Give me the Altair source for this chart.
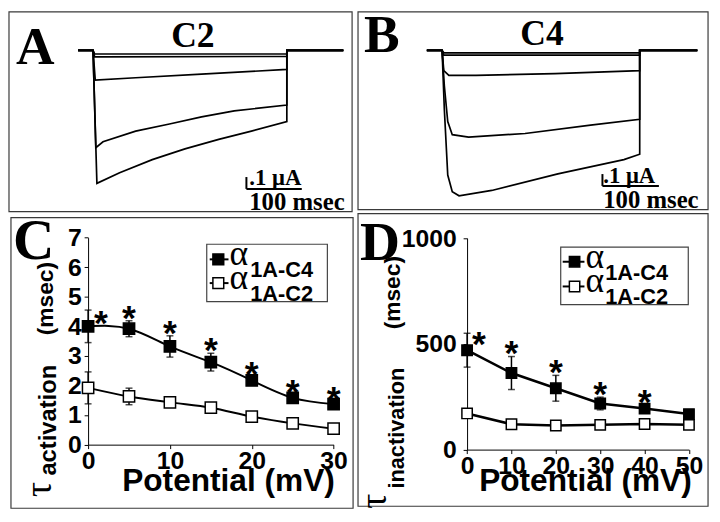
import altair as alt
import pandas as pd

W, H = 712, 514
SX, SY = 4, 3


def X(p):
    return round(p - SX, 1)


def Y(p):
    return round(p - SY, 1)


SANS = "Liberation Sans"
SERIF = "Liberation Serif"

# ---------------- data ----------------
# Panel A (alpha1A-C2) and B (alpha1A-C4): current traces
# time in ms from step onset, current in microampere
A_trace_t = [
    [0, 3, 350],
    [0, 3, 350],
    [0, 4, 77, 196, 350],
    [0, 5, 18, 77, 138, 196, 255, 350],
    [0, 7, 48, 107, 166, 227, 286, 350],
]
A_trace_i = [
    [0, -0.03, -0.03],
    [0, -0.055, -0.05],
    [0, -0.25, -0.23, -0.20, -0.16],
    [0, -0.82, -0.77, -0.68, -0.62, -0.56, -0.51, -0.46],
    [0, -1.12, -1.03, -0.92, -0.83, -0.75, -0.68, -0.60],
]
B_trace_t = [
    [0, 3, 350],
    [0, 3, 350],
    [0, 3, 12, 60, 200, 350],
    [0, 4, 10, 18, 47, 147, 263, 350],
    [0, 4, 10, 18, 30, 88, 205, 322, 350],
]
B_trace_i = [
    [0, -0.02, -0.02],
    [0, -0.04, -0.04],
    [0, -0.17, -0.21, -0.21, -0.195, -0.17],
    [0, -0.30, -0.60, -0.71, -0.73, -0.70, -0.63, -0.58],
    [0, -0.50, -1.05, -1.19, -1.225, -1.18, -1.04, -0.92, -0.875],
]
PULSE_END = 350
T_PRE, T_POST = -27, 452
SCALEBAR_MS = 100
SCALEBAR_UA = 0.1

# Panel C: activation time constant (msec)
C_x = [0, 5, 10, 15, 20, 25, 30]
C4_mean = [4.0, 3.92, 3.32, 2.79, 2.17, 1.58, 1.37]
C4_sem = [0.55, 0.27, 0.36, 0.30, 0.10, 0.10, 0.08]
C2_mean = [1.92, 1.63, 1.43, 1.25, 0.95, 0.72, 0.54]
C2_sem = [0.54, 0.28, 0.08, 0.08, 0.08, 0.06, 0.06]
C_sig = [True, True, True, True, True, True, True]

# Panel D: inactivation time constant (msec)
D_x = [0, 10, 20, 30, 40, 50]
D4_mean = [470, 362, 290, 218, 194, 168]
D4_sem = [80, 78, 61, 30, 18, 10]
D2_mean = [171, 120, 114, 117, 121, 117]
D2_sem = [10, 8, 8, 8, 8, 8]
D_sig = [True, True, True, True, True, False]

ONE = pd.DataFrame({"k": [0]})


# ---------------- helpers ----------------
def txt(text, x, y, size, font=SANS, weight="bold", align="left",
        baseline="alphabetic", angle=0):
    return alt.Chart(ONE).mark_text(
        text=text, font=font, fontSize=size, fontWeight=weight, align=align,
        baseline=baseline, angle=angle, color="black"
    ).encode(x=alt.value(X(x)), y=alt.value(Y(y)))


def frame(x0, y0, x1, y1, color="#3a3a3a", width=1.2):
    return alt.Chart(ONE).mark_rect(
        fillOpacity=0, stroke=color, strokeWidth=width
    ).encode(x=alt.value(X(x0)), x2=alt.value(X(x1)),
             y=alt.value(Y(y0)), y2=alt.value(Y(y1)))


def traces_df(ts, cs):
    rows = []
    for k, (tt, cc) in enumerate(zip(ts, cs)):
        seq = [(T_PRE, 0)] + list(zip(tt, cc)) + [(PULSE_END, 0), (T_POST, 0)]
        for j, (t, c) in enumerate(seq):
            rows.append({"trace": k, "t": t, "i": c, "o": j})
    return pd.DataFrame(rows)


def trace_panel(ts, cs, px0, pxms, base_y, sb_t, sb_i):
    # px0: pixel of t=0 ; pxms px per ms ; 120 px per microampere
    xs = alt.Scale(domain=[-30, 460], range=[X(px0 - 30 * pxms), X(px0 + 460 * pxms)],
                   nice=False, zero=False)
    ys = alt.Scale(domain=[-1.3, 0.2], range=[Y(base_y + 156), Y(base_y - 24)],
                   nice=False, zero=False)
    df = traces_df(ts, cs)
    lines = alt.Chart(df).mark_line(color="black", strokeWidth=1.7).encode(
        x=alt.X("t:Q", scale=xs, axis=None),
        y=alt.Y("i:Q", scale=ys, axis=None),
        detail="trace:N", order="o:Q")
    sb = pd.DataFrame({"t0": [sb_t], "t1": [sb_t + SCALEBAR_MS],
                       "i0": [sb_i], "i1": [sb_i + SCALEBAR_UA]})
    hbar = alt.Chart(sb).mark_rule(color="black", strokeWidth=2).encode(
        x=alt.X("t0:Q", scale=xs, axis=None), x2="t1:Q",
        y=alt.Y("i0:Q", scale=ys, axis=None))
    vbar = alt.Chart(sb).mark_rule(color="black", strokeWidth=2).encode(
        x=alt.X("t0:Q", scale=xs, axis=None),
        y=alt.Y("i0:Q", scale=ys, axis=None), y2="i1:Q")
    return alt.layer(lines, hbar, vbar)


def stat_panel(xv, m4, e4, m2, e2, sig, xdom, xrng, ydom, yrng, xvals, yvals,
               lab_pad, interp4, interp2, sq, lw, first_dx, first_dy):
    axis_common = dict(labelFont=SANS, labelFontWeight="bold", labelFontSize=25,
                       labelColor="black", domainColor="black", tickColor="black",
                       domainWidth=1, tickWidth=1, tickSize=4, grid=False,
                       labelFlush=False, labelOverlap=False, title=None, format="d")
    ax_x = alt.Axis(orient="bottom", offset=Y(yrng[0]) - H, values=xvals,
                    labelPadding=0, **axis_common)
    ax_y = alt.Axis(orient="left", offset=-X(xrng[0]), values=yvals,
                    labelPadding=lab_pad, **axis_common)
    xs = alt.Scale(domain=xdom, range=[X(xrng[0]), X(xrng[1])], nice=False, zero=False)
    ys = alt.Scale(domain=ydom, range=[Y(yrng[0]), Y(yrng[1])], nice=False, zero=False)

    def frame_df(m, e):
        return pd.DataFrame({"x": xv, "m": m,
                             "lo": [a - b for a, b in zip(m, e)],
                             "hi": [a + b for a, b in zip(m, e)],
                             "sig": sig})

    d4 = frame_df(m4, e4)
    d2 = frame_df(m2, e2)
    layers = []
    for d, filled, interp in ((d2, False, interp2), (d4, True, interp4)):
        ex = alt.X("x:Q", scale=xs, axis=ax_x)
        layers.append(alt.Chart(d).mark_rule(color="black", strokeWidth=1.5).encode(
            x=ex, y=alt.Y("lo:Q", scale=ys, axis=ax_y), y2="hi:Q"))
        for f in ("lo", "hi"):
            layers.append(alt.Chart(d).mark_tick(orient="horizontal", color="black",
                                                 size=7, thickness=1.5).encode(
                x=ex, y=alt.Y(f + ":Q", scale=ys, axis=ax_y)))
        layers.append(alt.Chart(d).mark_line(color="black", strokeWidth=lw,
                                             interpolate=interp).encode(
            x=ex, y=alt.Y("m:Q", scale=ys, axis=ax_y)))
        layers.append(alt.Chart(d).mark_point(
            shape="square", size=sq, filled=True, opacity=1,
            fill="black" if filled else "white", stroke="black", strokeWidth=1.5
        ).encode(x=ex, y=alt.Y("m:Q", scale=ys, axis=ax_y)))
    # significance stars
    s_first = d4[d4["sig"]].iloc[:1]
    s_rest = d4[d4["sig"]].iloc[1:]
    ex = alt.X("x:Q", scale=xs, axis=ax_x)
    layers.append(alt.Chart(s_first).mark_text(
        text="*", font=SANS, fontWeight="bold", fontSize=36, color="black",
        align="center", baseline="alphabetic", dx=first_dx, dy=first_dy
    ).encode(x=ex, y=alt.Y("hi:Q", scale=ys, axis=ax_y)))
    layers.append(alt.Chart(s_rest).mark_text(
        text="*", font=SANS, fontWeight="bold", fontSize=36, color="black",
        align="center", baseline="alphabetic", dy=9
    ).encode(x=ex, y=alt.Y("hi:Q", scale=ys, axis=ax_y)))
    return alt.layer(*layers)


def legend(box, row_y, line_x, sym_x, alpha_x, sub_x, alpha_dy, sub_dy, sq):
    parts = [frame(*box, color="#444", width=1.2)]
    for r, (yy, filled, lab) in enumerate(((row_y[0], True, "1A-C4"),
                                            (row_y[1], False, "1A-C2"))):
        parts.append(alt.Chart(ONE).mark_rule(color="black", strokeWidth=2).encode(
            x=alt.value(X(line_x[0])), x2=alt.value(X(line_x[1])), y=alt.value(Y(yy))))
        parts.append(alt.Chart(ONE).mark_point(
            shape="square", size=sq, filled=True, opacity=1,
            fill="black" if filled else "white", stroke="black", strokeWidth=1.5
        ).encode(x=alt.value(X(sym_x)), y=alt.value(Y(yy))))
        parts.append(txt("\u03b1", alpha_x, yy + alpha_dy, 36, font=SERIF, weight="normal"))
        parts.append(txt(lab, sub_x, yy + sub_dy, 22))
    return parts


# ---------------- panels ----------------
panelA = trace_panel(A_trace_t, A_trace_i, 90, 0.56, 43, 277, -1.167)
panelB = trace_panel(B_trace_t, B_trace_i, 443, 0.571, 43, 284, -1.142)

panelC = stat_panel(C_x, C4_mean, C4_sem, C2_mean, C2_sem, C_sig,
                    [0, 30], [85, 333.3], [0, 7], [441.7, 232.3],
                    [0, 10, 20, 30], [0, 1, 2, 3, 4, 5, 6, 7], 3,
                    "natural", "catmull-rom", 130, 2, 13, 25)
panelD = stat_panel(D_x, D4_mean, D4_sem, D2_mean, D2_sem, D_sig,
                    [0, 50], [468.3, 692.7], [0, 1000], [446.7, 232.8],
                    [0, 10, 20, 30, 40, 50], [0, 500, 1000], 7,
                    "linear", "linear", 110, 2.5, 12, 23)

deco = [
    frame(5, 4, 352, 206),
    frame(358, 4, 712, 204),
    frame(7, 212, 353, 506),
    frame(358, 208, 712, 504),
    txt("A", 12, 57, 54, font=SERIF),
    txt("B", 364, 45, 54, font=SERIF),
    txt("C", 9, 254, 58, font=SERIF),
    txt("D", 360, 255, 56, font=SERIF),
    txt("C2", 191, 40, 36, font=SERIF, align="center"),
    txt("C4", 544, 37, 36, font=SERIF, align="center"),
    txt(".1 \u03bcA", 248, 179, 23, font=SERIF),
    txt("100 msec", 248, 204, 25, font=SERIF),
    txt(".1 \u03bcA", 606, 177, 23, font=SERIF),
    txt("100 msec", 606, 202, 25, font=SERIF),
    txt("Potential (mV)", 227, 489, 32, align="center"),
    txt("Potential (mV)", 588, 489, 32, align="center"),
    # y titles, rotated
    txt("\u03c4", 47, 487, 38, font=SERIF, weight="normal", align="center", angle=270),
    txt("activation", 53, 417, 24, align="center", angle=270),
    txt("(msec)", 50, 294, 23, align="center", angle=270),
    txt("\u03c4", 386, 499, 38, font=SERIF, weight="normal", align="center", angle=270),
    txt("inactivation", 405, 425, 22, align="center", angle=270),
    txt("(msec)", 400, 288, 23, align="center", angle=270),
]
deco += legend((205, 239, 327, 297), (254.3, 278.3), (208, 227), 216.7, 228, 249, 6, 18, 120)
deco += legend((563, 242, 692, 300), (256.7, 281.7), (565, 587), 577, 588, 608, 6, 18, 110)

chart = alt.layer(panelA, panelB, panelC, panelD, *deco).resolve_scale(
    x="independent", y="independent"
).properties(
    width=W, height=H, autosize=alt.AutoSizeParams(type="none"), padding=0,
    background="white"
).configure_view(strokeWidth=0)

chart.save("out.html", embed_options={"renderer": "svg", "actions": False})
